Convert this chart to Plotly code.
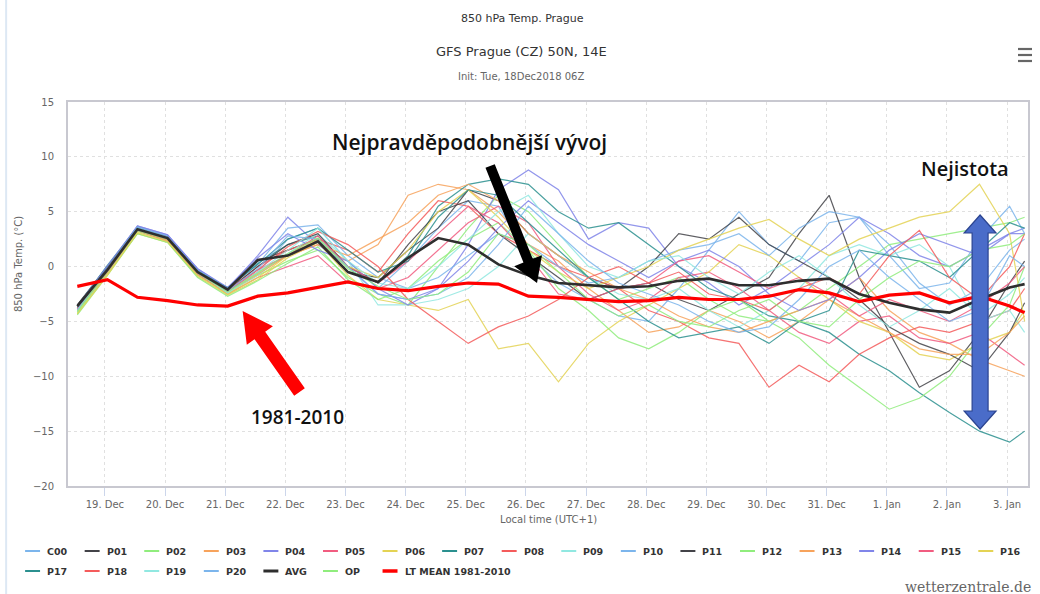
import pandas as pd
import plotly.graph_objects as go

# 12-hourly forecast steps in local time (UTC+1), last step is +6 h
times = pd.date_range("2018-12-18 13:00", periods=32, freq="12h").append(
    pd.DatetimeIndex(["2019-01-03 07:00"]))

# 850 hPa temperature (°C) of the ensemble members
c00 = [-3.8, -0.2, 3.6, 2.8, -0.3, -2.3, -0.5, 2.5, 3.5, 0.5, -2.0,
       0.5, 3.5, 6.0, 5.5, 1.0, -1.5, -3.0, -4.5, -5.0, -2.0, 1.5, 5.0, 2.0, 0.5, 4.0, 4.5, 2.0, -1.5, -3.5, -2.0, 1.5, 2.5]
p01 = [-3.5, 0.0, 3.5, 2.6, -0.6, -2.0, 0.5, 1.5, 2.5, -0.5, -1.0,
       1.5, 3.5, 7.0, 6.0, 3.0, 1.0, -1.0, -2.0, -1.5, -3.0, -4.0, -2.5, -1.0, 3.0, 6.5, -1.0, -6.0, -11.0, -9.5, -6.0, -1.5, 0.5]
p02 = [-4.2, -0.6, 3.2, 2.4, -0.8, -2.4, -0.8, 0.5, 1.5, -1.0, -2.5,
       -3.5, 0.0, 3.5, 6.5, 5.0, 2.0, -1.0, -3.0, -2.0, -1.0, -3.0, -4.5, -5.0, -4.0, -2.0, 0.0, 2.0, 2.5, 3.0, 3.5, 4.0, 4.5]
p03 = [-4.0, -0.4, 3.4, 2.5, -0.4, -2.2, -0.5, 1.0, 2.0, 0.5, 2.0,
       6.5, 7.5, 7.0, 5.0, 2.0, 0.5, -2.0, -4.0, -6.0, -5.5, -4.0, -5.0, -6.5, -5.0, -3.0, -1.0, -4.0, -6.0, -7.0, -8.5, -9.5, -10.0]
p04 = [-3.7, -0.1, 3.7, 2.9, -0.2, -2.0, 1.0, 4.5, 2.0, 0.0, -2.5,
       -3.0, -2.0, 2.0, 7.0, 8.8, 7.0, 2.5, 4.0, 3.5, 0.0, -1.5, -3.5, -2.0, 0.0, 2.0, 4.5, 3.0, 1.0, 0.0, 1.5, 3.0, 3.5]
p05 = [-3.9, -0.5, 3.3, 2.3, -0.7, -2.5, -1.0, 0.0, 1.0, -1.5, -2.0,
       -1.0, 1.5, 4.0, 5.5, 4.0, 0.0, -2.5, -4.0, -3.0, -1.0, -0.5, -2.0, -4.0, -6.0, -7.0, -5.0, -4.5, -6.5, -7.0, -6.0, -8.0, -9.0]
p06 = [-4.3, -0.7, 3.0, 2.2, -0.9, -2.6, -1.2, 0.8, 2.2, -0.8, -3.0,
       -3.5, -4.0, -3.0, -7.5, -7.0, -10.5, -7.0, -5.0, -3.5, -2.0, -0.5, 2.0, 1.0, -1.0, -3.0, -5.0, -6.0, -8.0, -8.5, -7.0, -6.0, -4.0]
p07 = [-3.6, 0.1, 3.6, 2.7, -0.4, -1.9, 0.3, 2.0, 2.8, 0.0, -1.5,
       1.0, 5.5, 7.5, 8.0, 7.5, 5.0, 3.5, 4.0, 2.0, 0.0, -2.0, -3.0, -4.5, -5.0, -6.0, -8.0, -9.5, -11.5, -13.3, -15.0, -16.0, -15.0]
p08 = [-3.8, -0.3, 3.5, 2.6, -0.5, -2.1, 0.0, 1.5, 2.5, 1.5, -0.5,
       3.0, 6.0, 5.5, 3.0, 1.5, 0.0, -1.0, -2.0, -4.0, -5.0, -6.5, -7.0, -11.0, -9.0, -10.5, -8.0, -6.5, -5.5, -6.0, -5.0, -4.0, -2.0]
p09 = [-4.1, -0.5, 3.3, 2.5, -0.6, -2.3, -0.8, 1.2, 3.0, 0.5, -3.5,
       -3.5, -3.0, -2.0, 0.0, 3.0, 1.0, -1.0, -2.5, -3.0, -2.0, -4.0, -5.5, -4.0, -2.0, 1.0, 2.0, 1.0, 2.0, 0.0, -5.0, -4.0, -6.0]
p10 = [-3.7, -0.2, 3.6, 2.8, -0.3, -2.0, 0.2, 3.5, 3.8, 1.0, -1.0,
       -2.0, -1.0, 1.0, 3.0, 2.0, 0.0, -1.5, -1.0, 0.5, 1.5, 2.0, 3.0, 1.0, 3.5, 5.0, 4.5, 1.0, -2.0, -1.5, 2.5, 5.5, 3.0]
p11 = [-3.6, -0.1, 3.5, 2.7, -0.5, -2.2, 0.0, 2.0, 3.0, 0.0, -1.5,
       2.0, 5.0, 6.0, 3.0, 1.0, -1.0, -3.0, -2.0, 0.0, 3.0, 2.5, 4.5, 2.0, 0.5, -1.0, -3.0, -5.5, -7.0, -8.0, -9.5, -6.0, -3.3]
p12 = [-4.4, -0.8, 3.0, 2.2, -1.0, -2.7, -1.3, 0.3, 1.8, -1.2, -3.0,
       -2.0, 0.5, 2.5, 4.0, 1.5, -2.0, -4.0, -6.5, -7.5, -6.0, -4.0, -3.0, -5.0, -6.5, -9.0, -11.0, -13.0, -12.0, -10.0, -6.5, -3.5, 0.0]
p13 = [-4.0, -0.5, 3.3, 2.4, -0.6, -2.3, -0.7, 1.0, 2.0, 1.0, 2.5,
       4.0, 6.5, 7.5, 6.0, 3.0, 1.0, -0.5, -2.0, -3.0, -4.5, -5.5, -6.0, -5.0, -4.0, -3.0, -4.5, -6.0, -7.5, -8.0, -8.0, -6.0, -4.5]
p14 = [-3.6, 0.0, 3.7, 2.9, -0.2, -1.9, 0.8, 3.0, 1.5, 0.5, -2.0,
       -3.5, -2.0, 0.5, 3.5, 6.0, 4.0, 2.0, 0.5, -1.0, 0.5, 1.5, 0.0, -2.5, -4.0, -3.0, -1.0, 1.5, 3.0, 2.0, 1.0, 3.0, 3.0]
p15 = [-3.9, -0.4, 3.4, 2.5, -0.6, -2.3, -0.3, 1.0, 2.8, 0.0, -1.5,
       0.5, 3.0, 5.5, 4.0, 1.0, -2.5, -3.0, -2.0, -1.5, 0.5, 1.0, -0.5, -2.0, -1.0, -2.5, -4.5, -3.0, -4.0, -5.0, -3.5, -1.5, 0.0]
p16 = [-4.3, -0.8, 3.1, 2.3, -0.8, -2.5, -1.0, 1.0, 2.5, 0.0, -1.0,
       1.5, 5.0, 7.0, 4.5, 1.5, -0.5, -2.0, -1.0, 0.0, 1.5, 2.5, 3.5, 4.3, 2.5, 1.0, 2.5, 3.5, 4.5, 5.0, 7.5, 3.0, -5.0]
p17 = [-3.7, -0.2, 3.5, 2.6, -0.4, -2.0, 0.2, 2.5, 3.5, 1.5, -0.5,
       0.5, 4.5, 7.0, 6.5, 4.0, 1.5, -1.0, -3.0, -5.0, -6.5, -6.0, -5.5, -7.0, -5.0, -4.0, 1.5, 1.0, 0.5, -1.0, 1.5, 4.0, 3.5]
p18 = [-3.8, -0.4, 3.4, 2.5, -0.5, -2.1, -0.3, 1.8, 3.2, 2.0, 0.0,
       -3.0, -5.0, -7.0, -5.5, -4.5, -3.0, -1.0, 0.0, -1.5, -0.5, -2.5, -3.0, -4.0, -2.0, -1.0, -2.5, 1.0, 3.3, -1.0, -3.0, 0.0, 3.0]
p19 = [-4.0, -0.3, 3.5, 2.6, -0.5, -2.4, -0.5, 1.5, 3.5, 0.5, -1.5,
       -2.0, 0.0, 2.5, 5.0, 6.5, 3.0, 0.0, -1.0, 0.5, 1.0, -1.0, -2.5, -0.5, 1.0, -1.0, -3.5, -5.5, -4.0, -2.0, -4.5, -2.5, -1.0]
p20 = [-3.9, -0.2, 3.6, 2.7, -0.4, -2.2, -0.2, 2.8, 2.5, 0.0, -2.5,
       -3.0, -2.5, -1.0, 2.0, 5.5, 3.0, 0.5, -1.5, -2.5, -3.5, -5.0, -6.0, -5.5, -3.0, 0.0, 1.5, -1.0, -3.0, -5.0, -4.0, 1.0, 0.0]

# ensemble mean, operational run and the 1981-2010 climatology
avg = [-3.6, -0.3, 3.4, 2.6, -0.5, -2.1, 0.6, 1.0, 2.3, -0.5, -1.4,
       0.8, 2.6, 2.0, 0.2, -0.8, -1.5, -1.7, -1.9, -1.8, -1.3, -1.1, -1.7, -1.7, -1.3, -1.1, -2.5, -3.3, -3.9, -4.2, -3.0, -1.9, -1.6]
op = [-4.1, -0.4, 3.3, 2.5, -0.6, -2.3, -0.6, 1.2, 2.6, -0.2, -1.8,
      -3.0, -2.5, -0.5, 3.0, 2.0, -0.5, -3.0, -4.5, -3.5, -5.0, -5.5, -4.0, -3.0, -5.0, -5.5, -3.0, -1.0, 0.5, 0.0, 1.5, 2.0, 3.0]
lt_mean = [-1.8, -1.2, -2.8, -3.1, -3.5, -3.6, -2.7, -2.4, -1.9, -1.4, -2.0,
           -2.2, -1.8, -1.5, -1.6, -2.7, -2.8, -3.0, -3.2, -3.1, -2.8, -3.0, -3.0, -2.7, -2.1, -2.4, -3.2, -2.6, -2.4, -3.3, -2.7, -3.6, -4.2]

members = [c00, p01, p02, p03, p04, p05, p06, p07, p08, p09, p10,
           p11, p12, p13, p14, p15, p16, p17, p18, p19, p20]
member_names = ["C00"] + ["P%02d" % k for k in range(1, 21)]
palette = ["#7cb5ec", "#434348", "#90ed7d", "#f7a35c", "#8085e9",
           "#f15c80", "#e4d354", "#2b908f", "#f45b5b", "#91e8e1"]

for series in members + [avg, op, lt_mean]:
    assert len(series) == len(times)

# plot-area box in page pixels
W, H = 1040, 594
L, R, T, B = 68, 1030, 102, 486


def fx(px):
    return (px - L) / (R - L)


def fy(py):
    return (B - py) / (B - T)


fig = go.Figure()

for k, (name, vals) in enumerate(zip(member_names, members)):
    fig.add_trace(go.Scatter(x=times, y=vals, name=name, mode="lines",
                             line=dict(color=palette[k % 10], width=1.2),
                             opacity=0.85, showlegend=False))

fig.add_trace(go.Scatter(x=times, y=op, name="OP", mode="lines",
                         line=dict(color="#90ed7d", width=1.2), opacity=0.85, showlegend=False))
fig.add_trace(go.Scatter(x=times, y=avg, name="AVG", mode="lines",
                         line=dict(color="#2e2e2e", width=2.6), showlegend=False))
fig.add_trace(go.Scatter(x=times, y=lt_mean, name="LT MEAN 1981-2010", mode="lines",
                         line=dict(color="#ff0000", width=3.2), showlegend=False))

shapes = []
annotations = []


def text(s, x, y, size, color="#333333", family="DejaVu Sans", weight="normal",
         xanchor="center", angle=0):
    annotations.append(dict(text=s, x=fx(x), y=fy(y), xref="paper", yref="paper",
                            xanchor=xanchor, yanchor="middle", showarrow=False,
                            textangle=angle,
                            font=dict(size=size, color=color, family=family, weight=weight)))


def poly(points, fill, line_color, line_width=0):
    d = "M " + " L ".join("%.5f,%.5f" % (fx(px), fy(py)) for px, py in points) + " Z"
    shapes.append(dict(type="path", path=d, xref="paper", yref="paper",
                       fillcolor=fill, line=dict(color=line_color, width=line_width),
                       layer="above"))


def arrow_points(x0, y0, x1, y1, shaft_w, head_w, head_len):
    dx, dy = x1 - x0, y1 - y0
    n = (dx * dx + dy * dy) ** 0.5
    ux, uy = dx / n, dy / n
    vx, vy = -uy, ux
    bx, by = x1 - ux * head_len, y1 - uy * head_len
    s, h = shaft_w / 2, head_w / 2
    return [(x0 + vx * s, y0 + vy * s), (bx + vx * s, by + vy * s),
            (bx + vx * h, by + vy * h), (x1, y1),
            (bx - vx * h, by - vy * h), (bx - vx * s, by - vy * s),
            (x0 - vx * s, y0 - vy * s)]


# titles
text("850 hPa Temp. Prague", 523, 18, 11, "#333333")
text("GFS Prague (CZ) 50N, 14E", 522, 51, 13, "#333333")
text("Init: Tue, 18Dec2018 06Z", 522, 77, 10, "#666666")
text("850 hPa Temp. (°C)", 18, 264, 10, "#666666", angle=-90)
text("Local time (UTC+1)", 549, 519, 10, "#666666")
text("wetterzentrale.de", 1035, 587, 14, "#666666", family="DejaVu Serif", xanchor="right")

# export menu icon
for yy in (49, 55, 61):
    shapes.append(dict(type="line", xref="paper", yref="paper",
                       x0=fx(1020), x1=fx(1034), y0=fy(yy), y1=fy(yy),
                       line=dict(color="#666666", width=2.2)))

# page edge
shapes.append(dict(type="line", xref="paper", yref="paper", x0=fx(6), x1=fx(6),
                   y0=fy(0), y1=fy(594), line=dict(color="#dde8f4", width=2)))

# commentary arrows and labels
text("Nejpravděpodobnější vývoj", 470, 142, 21, "#111111", family="Open Sans", weight=600)
poly(arrow_points(491, 166, 538, 283, 10, 30, 24), "#000000", "#000000")
text("1981-2010", 298, 417, 19, "#111111", family="Open Sans", weight=600)
poly(arrow_points(300, 392, 243, 311, 13, 32, 30), "#ff0000", "#ff0000")
text("Nejistota", 967, 168, 20, "#111111", family="Open Sans", weight=600)

cx, top, bot = 982, 215, 429
sw, hw, hl = 8, 16, 18
poly([(cx, top), (cx + hw, top + hl), (cx + sw, top + hl), (cx + sw, bot - hl),
      (cx + hw, bot - hl), (cx, bot), (cx - hw, bot - hl), (cx - sw, bot - hl),
      (cx - sw, top + hl), (cx - hw, top + hl)], "#4a6cc9", "#2b4490", 1.2)

# legend rows
legend_items = [(n, palette[k % 10], 2) for k, n in enumerate(member_names)]
legend_items += [("AVG", "#2e2e2e", 3), ("OP", "#90ed7d", 2), ("LT MEAN 1981-2010", "#ff0000", 3.5)]
for k, (name, color, lw) in enumerate(legend_items):
    row, col = divmod(k, 17)
    sx = 25 + 59.7 * col
    sy = 551 + 20 * row
    shapes.append(dict(type="line", xref="paper", yref="paper",
                       x0=fx(sx), x1=fx(sx + 15), y0=fy(sy), y1=fy(sy),
                       line=dict(color=color, width=lw)))
    text(name, sx + 20, sy, 9.5, "#333333", weight="bold", xanchor="left")

axis_common = dict(showline=True, linecolor="#c8c8d0", linewidth=2, mirror=True,
                   showgrid=True, gridcolor="#e0e0e0", griddash="dot", gridwidth=1,
                   zeroline=False, tickfont=dict(size=10, color="#666666", family="DejaVu Sans"))

fig.update_layout(
    width=W, height=H,
    margin=dict(l=L, r=W - R, t=T, b=H - B),
    paper_bgcolor="white", plot_bgcolor="white",
    showlegend=False,
    xaxis=dict(type="date", range=["2018-12-18 09:17", "2019-01-03 08:21"],
               tick0="2018-12-19", dtick=86400000, tickformat="%-d. %b",
               ticks="outside", ticklen=8, tickcolor="#ccd6eb", **axis_common),
    yaxis=dict(range=[-20, 15], dtick=5, ticks="", ticklabelstandoff=10, **axis_common),
    shapes=shapes,
    annotations=annotations,
)

fig.write_html("out.html")
